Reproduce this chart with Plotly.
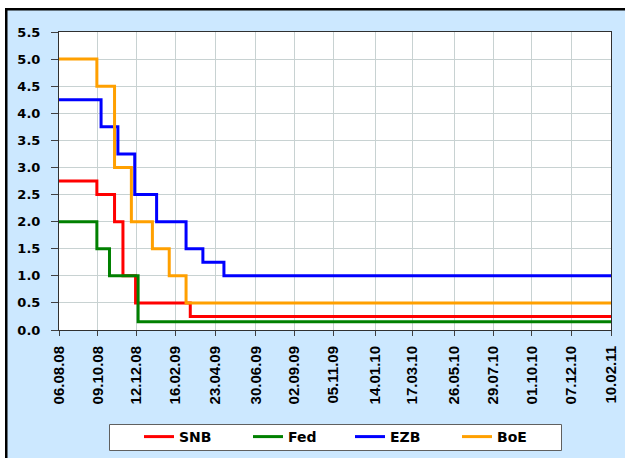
import plotly.graph_objects as go

snb_dates = ["2008-08-06", "2008-10-08", "2008-11-06", "2008-11-20", "2008-12-11", "2009-03-12", "2011-02-10"]
snb_rates = [2.75, 2.50, 2.00, 1.00, 0.50, 0.25, 0.25]

fed_dates = ["2008-08-06", "2008-10-08", "2008-10-29", "2008-12-16", "2011-02-10"]
fed_rates = [2.00, 1.50, 1.00, 0.15, 0.15]

ezb_dates = ["2008-08-06", "2008-10-15", "2008-11-12", "2008-12-10", "2009-01-15", "2009-03-05", "2009-04-02", "2009-05-07", "2011-02-10"]
ezb_rates = [4.25, 3.75, 3.25, 2.50, 2.00, 1.50, 1.25, 1.00, 1.00]

boe_dates = ["2008-08-06", "2008-10-08", "2008-11-06", "2008-12-04", "2009-01-08", "2009-02-05", "2009-03-05", "2011-02-10"]
boe_rates = [5.00, 4.50, 3.00, 2.00, 1.50, 1.00, 0.50, 0.50]

tick_dates = ["2008-08-06", "2008-10-09", "2008-12-12", "2009-02-16", "2009-04-23", "2009-06-30",
              "2009-09-02", "2009-11-05", "2010-01-14", "2010-03-17", "2010-05-26", "2010-07-29",
              "2010-10-01", "2010-12-07", "2011-02-10"]
tick_labels = ["06.08.08", "09.10.08", "12.12.08", "16.02.09", "23.04.09", "30.06.09",
               "02.09.09", "05.11.09", "14.01.10", "17.03.10", "26.05.10", "29.07.10",
               "01.10.10", "07.12.10", "10.02.11"]

series_names = ["SNB", "Fed", "EZB", "BoE"]
series_colors = ["#FF0000", "#008000", "#0000FF", "#FFA000"]
series_dates = [snb_dates, fed_dates, ezb_dates, boe_dates]
series_rates = [snb_rates, fed_rates, ezb_rates, boe_rates]
legend_ids = ["legend", "legend2", "legend3", "legend4"]

W, H = 625, 462
L, R, T, B = 59, 14, 32, 132
pw, ph = W - L - R, H - T - B

def px(x):
    return (x - L) / pw

def py(y):
    return (H - B - y) / ph

LEG_X = [139, 248, 350, 457]

fig = go.Figure()
for name, d, v, c, lg in zip(series_names, series_dates, series_rates, series_colors, legend_ids):
    fig.add_trace(go.Scatter(x=d, y=v, name=name, mode="lines", legend=lg,
                             line=dict(color=c, width=3, shape="hv")))

LIB = "Liberation Sans, Arial, sans-serif"
DJV = "DejaVu Sans, sans-serif"

shapes = [
    dict(type="rect", xref="paper", yref="paper", x0=px(5), x1=px(626), y0=py(458), y1=py(8),
         fillcolor="#CCE8FF", line=dict(width=0), layer="below"),
    dict(type="rect", xref="paper", yref="paper", x0=px(5), x1=px(626), y0=py(10.5), y1=py(8),
         fillcolor="#000000", line=dict(width=0), layer="below"),
    dict(type="rect", xref="paper", yref="paper", x0=px(5), x1=px(7.5), y0=py(458), y1=py(8),
         fillcolor="#000000", line=dict(width=0), layer="below"),
    dict(type="rect", xref="paper", yref="paper", x0=0, x1=1, y0=0, y1=1,
         fillcolor="#FFFFFF", line=dict(width=0), layer="below"),
    dict(type="rect", xref="paper", yref="paper", x0=px(109.5), x1=px(561.5), y0=py(450.5), y1=py(424.5),
         fillcolor="#FFFFFF", line=dict(color="#606060", width=1), layer="below"),
]

legend_style = dict(orientation="h", xanchor="left", yanchor="top",
                    bgcolor="rgba(0,0,0,0)", borderwidth=0,
                    font=dict(family=DJV, size=14, color="#000000", weight="bold"))

layout_legends = {}
for lg, lx in zip(legend_ids, LEG_X):
    layout_legends[lg] = dict(legend_style, x=px(lx), y=py(421))

fig.update_layout(
    width=W, height=H,
    margin=dict(l=L, r=R, t=T, b=B, pad=0, autoexpand=False),
    paper_bgcolor="#FFFFFF", plot_bgcolor="rgba(0,0,0,0)",
    showlegend=True,
    shapes=shapes,
    xaxis=dict(type="date", range=["2008-08-06", "2011-02-10"],
               rangebreaks=[dict(bounds=["sat", "mon"])],
               tickmode="array", tickvals=tick_dates, ticktext=tick_labels,
               tickangle=-90, ticks="outside", ticklen=5, tickcolor="#404040",
               ticklabelstandoff=4,
               showgrid=True, gridcolor="#C8D2D2", gridwidth=1,
               showline=True, linecolor="#303030", linewidth=1, mirror=True,
               tickfont=dict(family=LIB, size=15, color="#000000", weight="bold"),
               zeroline=False, automargin=False),
    yaxis=dict(range=[0, 5.5], dtick=0.5, tick0=0, tickformat=".1f",
               ticks="outside", ticklen=7, tickcolor="#404040",
               ticklabelstandoff=8,
               showgrid=True, gridcolor="#C8D2D2", gridwidth=1,
               showline=True, linecolor="#303030", linewidth=1, mirror=True,
               tickfont=dict(family=DJV, size=13, color="#000000", weight="bold"),
               zeroline=False, automargin=False),
    **layout_legends,
)

fig.write_html("out.html", config={"displayModeBar": False},
               post_script="document.body.style.margin='0';")
